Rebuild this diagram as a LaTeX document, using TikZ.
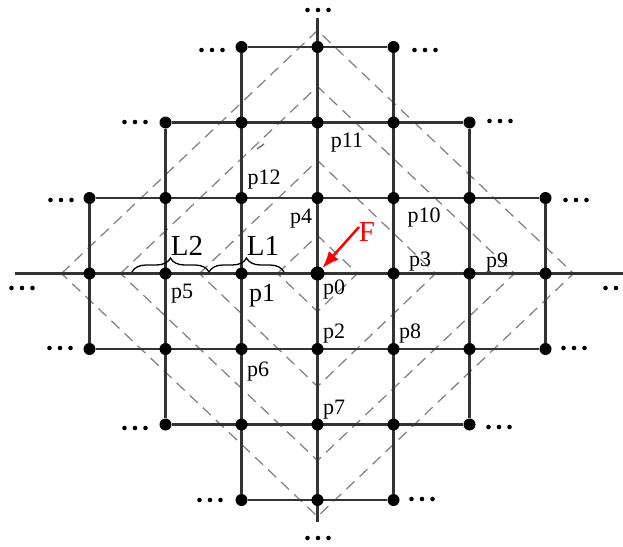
\documentclass[tikz,border=0pt]{standalone}
\usepackage{fontspec}
\setmainfont{Liberation Serif}
\usetikzlibrary{decorations.pathreplacing,arrows.meta}
\pgfdeclarelayer{background}
\pgfsetlayers{background,main}
\begin{document}
\begin{tikzpicture}[x=1pt,y=-1pt,
  gridline/.style={line width=2.3pt, draw=black!80},
  diag/.style={draw=black!48, line width=1.3pt, dash pattern=on 11pt off 7pt},
  dot/.style={circle, fill=black, inner sep=0pt, minimum size=12pt},
  bigdot/.style={circle, fill=black, inner sep=0pt, minimum size=14pt},
  lbl/.style={font=\fontsize{22}{22}\selectfont, inner sep=0pt},
  big/.style={font=\fontsize{29}{29}\selectfont, inner sep=0pt},
  ell/.pic={\foreach \k in {-10.5,0,10.5} \fill (\k,0) circle (2.3pt);},
  brc/.style={decorate, decoration={brace, amplitude=14pt}, line width=1.3pt},
  farrow/.style={draw=red, line width=2.5pt, -{Latex[length=17pt,width=13pt]}}
]
\useasboundingbox (0,0) rectangle (623,546);

% lattice nodes
\foreach \r/\w in {0/1,1/2,2/3,3/3,4/3,5/2,6/1}{
  \pgfmathtruncatemacro{\cl}{3-\w}
  \pgfmathtruncatemacro{\cR}{3+\w}
  \foreach \c in {\cl,...,\cR}{
    \node[dot] (n\c\r) at ({89.5+76*\c},{47+75.5*\r}) {};
  }
}
\node[bigdot] (p0dot) at (n33) {};

\coordinate (hl) at (15,273.5);
\coordinate (hr) at (623,273.5);
\coordinate (vt) at (317.5,18);
\coordinate (vb) at (317.5,522);

\begin{pgfonlayer}{background}
  \fill[white] (0,0) rectangle (623,546);
  % dashed diamonds
  \foreach \hw/\hh in {40/38,118/113,197/187,256/243}
    \draw[diag, shift={(n33)}] (-\hw,0) -- (0,-\hh) -- (\hw,0) -- (0,\hh) -- cycle;
  \draw[black!60, line width=1.3pt] (257,149) -- (264,144);
  % rows
  \draw[gridline] (n20) -- (n40);
  \draw[gridline] (n11) -- (n51);
  \draw[gridline] (n02) -- (n62);
  \draw[gridline] (hl) -- (hr);
  \draw[gridline] (n04) -- (n64);
  \draw[gridline] (n15) -- (n55);
  \draw[gridline] (n26) -- (n46);
  % columns
  \draw[gridline] (vt) -- (vb);
  \draw[gridline] (n20) -- (n26);
  \draw[gridline] (n40) -- (n46);
  \draw[gridline] (n11) -- (n15);
  \draw[gridline] (n51) -- (n55);
  \draw[gridline] (n02) -- (n04);
  \draw[gridline] (n62) -- (n64);
\end{pgfonlayer}

% ellipses
\foreach \x/\y in {212/50,425/50,318/10,135/122,500/121,61/200,576/200,22/288,616/288,60/348,574/348,135/428,499/427,210/500,422/499,318/538}
  \pic at (\x,\y) {ell};

% braces
\coordinate (b0) at (132,272);
\coordinate (b1) at (209,272);
\coordinate (b2) at (284,272);
\draw[brc] (b0) -- (b1);
\draw[brc] (b1) -- (b2);
\node[big] (L2) at (187,246) {L2};
\node[big] (L1) at (263,246) {L1};

% labels
\node[lbl] (p11) at (347,143) {p11};
\node[lbl] (p12) at (264,180) {p12};
\node[lbl] (p4) at (301,219) {p4};
\node[lbl] (p10) at (424,218) {p10};
\node[lbl] (p3) at (420,262) {p3};
\node[lbl] (p9) at (497,263) {p9};
\node[lbl] (p0) at (334,290) {p0};
\node[lbl] (p2) at (334,334) {p2};
\node[lbl] (p8) at (410,334) {p8};
\node[lbl] (p6) at (258,372) {p6};
\node[lbl] (p7) at (334,410) {p7};
\node[lbl] (p5) at (182,294) {p5};
\node[inner sep=0pt, font=\fontsize{26}{26}\selectfont] (p1) at (262,296) {p1};

% force
\node[big, text=red] (F) at (367,232) {F};
\coordinate (fs) at (359,227);
\draw[farrow] (fs) -- (p0dot);
\end{tikzpicture}
\end{document}
